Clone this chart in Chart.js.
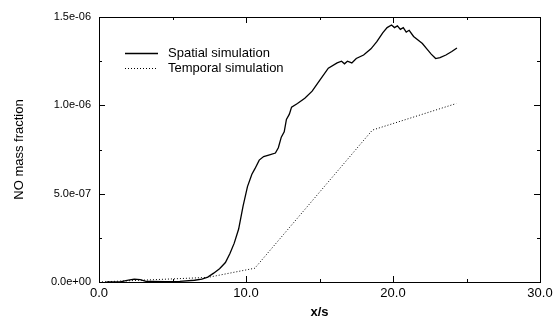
<!DOCTYPE html>
<html>
<head>
<meta charset="utf-8">
<script src="https://cdn.jsdelivr.net/npm/chart.js@4/dist/chart.umd.min.js"></script>
<style>
  html, body { margin: 0; padding: 0; background: #fff; }
  #wrap { width: 557px; height: 321px; }
</style>
</head>
<body>
<div id="wrap"><canvas id="chart" width="557" height="321"></canvas></div>
<script>
// spatial simulation (solid line)
const spatialX = [0.5, 1.5, 2.0, 2.4, 2.8, 3.2, 3.6, 4.5, 5.5, 6.5, 7.0, 7.4, 7.8, 8.2, 8.6, 8.9,
  9.2, 9.5, 9.8, 10.1, 10.4, 10.6, 10.9, 11.2, 11.6, 12.0, 12.2, 12.4, 12.6, 12.75, 12.95, 13.1,
  13.5, 14.0, 14.5, 15.0, 15.6, 16.2, 16.5, 16.7, 16.9, 17.2, 17.5, 18.0, 18.5, 18.9, 19.3, 19.6,
  19.9, 20.1, 20.3, 20.5, 20.7, 20.9, 21.1, 21.4, 21.7, 22.0, 22.3, 22.6, 22.9, 23.2, 23.6, 24.0, 24.35];
const spatialY = [0, 2e-9, 1.0e-8, 1.6e-8, 1.4e-8, 4e-9, 3e-9, 2e-9, 4e-9, 1.0e-8, 1.6e-8, 2.8e-8, 5.0e-8, 7.5e-8, 1.1e-7, 1.6e-7,
  2.2e-7, 3.0e-7, 4.3e-7, 5.4e-7, 6.1e-7, 6.4e-7, 6.9e-7, 7.1e-7, 7.2e-7, 7.3e-7, 7.6e-7, 8.2e-7, 8.5e-7, 9.2e-7, 9.5e-7, 9.9e-7,
  1.01e-6, 1.04e-6, 1.08e-6, 1.14e-6, 1.21e-6, 1.24e-6, 1.25e-6, 1.235e-6, 1.25e-6, 1.24e-6, 1.265e-6, 1.285e-6, 1.32e-6, 1.36e-6, 1.41e-6, 1.44e-6,
  1.455e-6, 1.44e-6, 1.45e-6, 1.43e-6, 1.44e-6, 1.415e-6, 1.425e-6, 1.39e-6, 1.37e-6, 1.35e-6, 1.32e-6, 1.29e-6, 1.265e-6, 1.27e-6, 1.285e-6, 1.305e-6, 1.325e-6];

// temporal simulation (dotted line)
const temporalX = [0.0, 7.4, 10.6, 18.6, 24.3];
const temporalY = [0, 2.6e-8, 7.8e-8, 8.6e-7, 1.01e-6];

const xTicks = [0, 10, 20, 30];
const yMajor = [0, 5e-7, 1e-6, 1.5e-6];
const seriesNames = ['Spatial simulation', 'Temporal simulation'];

const FONT = 'Liberation Sans, Arial, Helvetica, sans-serif';

// format like 1.5e-06 / 0.0e+00
function fmtExp(v) {
  if (Math.abs(v) < 1e-15) return '0.0e+00';
  const parts = v.toExponential(1).split('e');
  const sign = parts[1][0] === '-' ? '-' : '+';
  const digits = parts[1].replace(/[+-]/, '').padStart(2, '0');
  return parts[0] + 'e' + sign + digits;
}

function toPoints(xs, ys) {
  return xs.map((x, i) => ({ x: x, y: ys[i] }));
}

// box, inward tick marks and the in-plot legend
const framePlugin = {
  id: 'frame',
  afterDraw(chart) {
    const ctx = chart.ctx;
    const a = chart.chartArea;
    const xs = chart.scales.x;
    const ys = chart.scales.y;
    ctx.save();
    ctx.strokeStyle = '#000';
    ctx.lineWidth = 1;
    ctx.strokeRect(Math.round(a.left) + 0.5, Math.round(a.top) + 0.5,
      Math.round(a.right - a.left), Math.round(a.bottom - a.top));

    ctx.beginPath();
    // x ticks (major at 10, minor at 5)
    for (let v = 5; v < 30; v += 5) {
      const px = Math.round(xs.getPixelForValue(v)) + 0.5;
      const len = v % 10 === 0 ? 6 : 3;
      ctx.moveTo(px, a.bottom); ctx.lineTo(px, a.bottom - len);
      ctx.moveTo(px, a.top); ctx.lineTo(px, a.top + len);
    }
    // y ticks (major at 5e-7, minor at 2.5e-7)
    for (let i = 1; i < 6; i++) {
      const v = i * 2.5e-7;
      const py = Math.round(ys.getPixelForValue(v)) + 0.5;
      const len = i % 2 === 0 ? 6 : 3;
      ctx.moveTo(a.left, py); ctx.lineTo(a.left + len, py);
      ctx.moveTo(a.right, py); ctx.lineTo(a.right - len, py);
    }
    ctx.stroke();

    // legend inside the plot
    const lx = 125, ly = 53, rowH = 15;
    chart.data.datasets.forEach((ds, i) => {
      const y = ly + i * rowH + 0.5;
      ctx.beginPath();
      ctx.lineWidth = ds.borderWidth;
      ctx.setLineDash(ds.borderDash || []);
      ctx.moveTo(lx, y); ctx.lineTo(lx + 33, y);
      ctx.stroke();
      ctx.setLineDash([]);
      ctx.fillStyle = '#000';
      ctx.font = '13px ' + FONT;
      ctx.textBaseline = 'middle';
      ctx.textAlign = 'left';
      ctx.fillText(ds.label, lx + 43, y);
    });
    ctx.restore();
  }
};

const ctx = document.getElementById('chart').getContext('2d');
new Chart(ctx, {
  type: 'line',
  data: {
    datasets: [{
      label: seriesNames[0],
      data: toPoints(spatialX, spatialY),
      borderColor: '#000',
      borderWidth: 1.3,
      pointRadius: 0,
      tension: 0
    }, {
      label: seriesNames[1],
      data: toPoints(temporalX, temporalY),
      borderColor: '#000',
      borderWidth: 1,
      borderDash: [1, 2],
      pointRadius: 0,
      tension: 0
    }]
  },
  options: {
    responsive: false,
    animation: false,
    layout: { padding: { top: 17, right: 17, left: 0, bottom: 0 } },
    plugins: {
      legend: { display: false },
      tooltip: { enabled: false }
    },
    scales: {
      x: {
        type: 'linear',
        min: 0,
        max: 30,
        afterBuildTicks: scale => { scale.ticks = xTicks.map(v => ({ value: v })); },
        afterFit: scale => { scale.height = 39; },
        grid: { display: false, drawTicks: false },
        border: { display: false },
        ticks: {
          color: '#000',
          font: { family: FONT, size: 13 },
          padding: 4,
          maxRotation: 0,
          callback: v => v.toFixed(1)
        },
        title: {
          display: true,
          text: 'x/s',
          color: '#000',
          font: { family: FONT, size: 13, weight: 'bold' },
          padding: { top: 0, bottom: 1 }
        }
      },
      y: {
        type: 'linear',
        min: 0,
        max: 1.5e-6,
        afterBuildTicks: scale => { scale.ticks = yMajor.map(v => ({ value: v })); },
        afterFit: scale => { scale.width = 99; },
        grid: { display: false, drawTicks: false },
        border: { display: false },
        ticks: {
          color: '#000',
          font: { family: FONT, size: 11 },
          padding: 8,
          callback: v => fmtExp(v)
        },
        title: {
          display: true,
          text: 'NO mass fraction',
          color: '#000',
          font: { family: FONT, size: 13 },
          padding: { top: 12, bottom: 0 }
        }
      }
    }
  },
  plugins: [framePlugin]
});
</script>
</body>
</html>
